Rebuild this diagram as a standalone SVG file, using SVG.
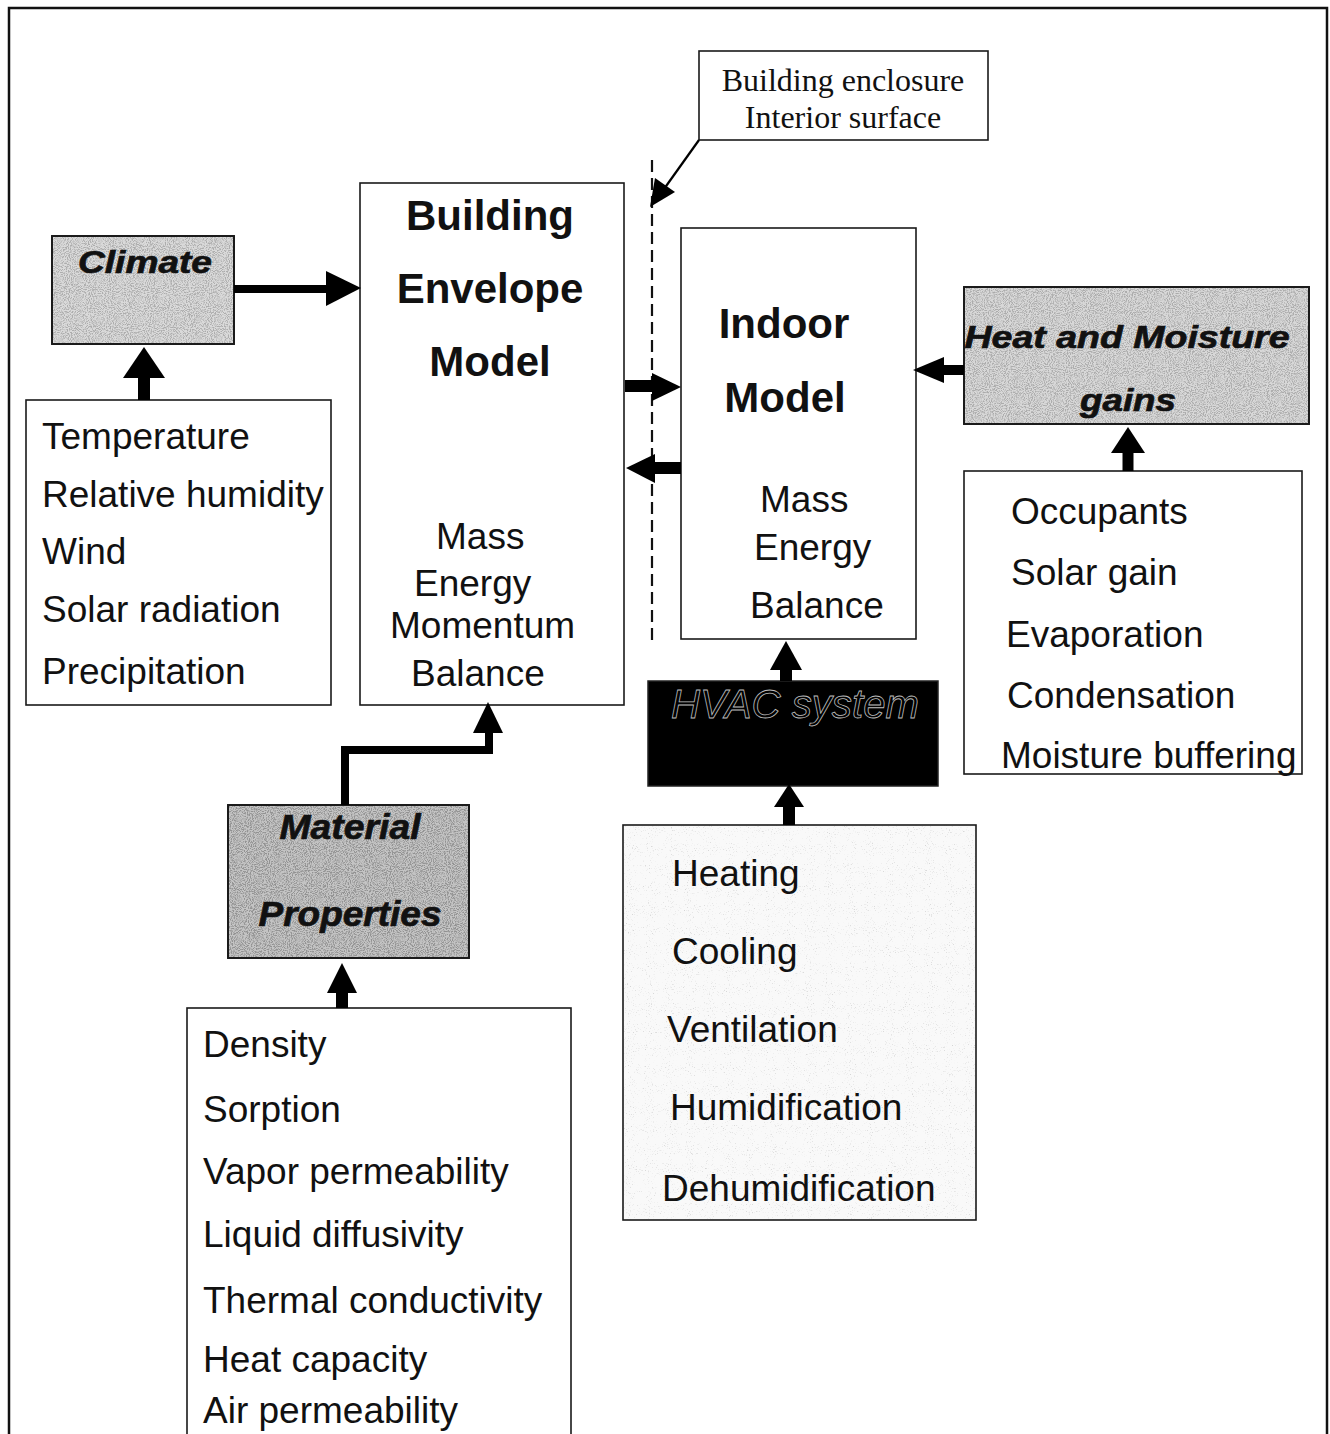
<svg xmlns="http://www.w3.org/2000/svg" width="1330" height="1434" viewBox="0 0 1330 1434">
  <style>
    .box { fill: #ffffff; stroke: #1a1a1a; stroke-width: 1.6; }
    .shade { stroke: #1a1a1a; stroke-width: 1.8; }
    .txt { font-family: "Liberation Sans", Arial, sans-serif; font-size: 37px; fill: #111; }
    .title { font-family: "Liberation Sans", Arial, sans-serif; font-size: 42px; font-weight: bold; fill: #111; }
    .label { font-family: "Liberation Sans", Arial, sans-serif; font-weight: bold; font-style: italic; fill: #111; stroke: #111; stroke-width: 0.7; text-anchor: middle; }
    .note { font-family: "Liberation Serif", "Times New Roman", serif; font-size: 32px; fill: #111; text-anchor: middle; }
    .shaft { stroke: #000; fill: none; stroke-linejoin: miter; }
    .head { fill: #000; }
  </style>
  <defs>
    <!-- speckled grain used on the shaded boxes -->
    <filter id="grain" x="0" y="0" width="1" height="1">
      <feTurbulence type="fractalNoise" baseFrequency="0.95" numOctaves="2" seed="7" result="n"/>
      <feColorMatrix in="n" type="matrix" values="0 0 0 0 0  0 0 0 0 0  0 0 0 0 0  0 0 0 -4 2.3" result="specks"/>
      <feComposite in="specks" in2="SourceGraphic" operator="in"/>
    </filter>
    <filter id="grainLight" x="0" y="0" width="1" height="1">
      <feTurbulence type="fractalNoise" baseFrequency="0.95" numOctaves="2" seed="11" result="n"/>
      <feColorMatrix in="n" type="matrix" values="0 0 0 0 0  0 0 0 0 0  0 0 0 0 0  0 0 0 -4 1.5" result="specks"/>
      <feComposite in="specks" in2="SourceGraphic" operator="in"/>
    </filter>
  </defs>

  <rect width="1330" height="1434" fill="#ffffff"/>

  <!-- page frame -->
  <rect x="9" y="8" width="1318" height="1450" fill="none" stroke="#111" stroke-width="2.5"/>

  <!-- interior surface marker -->
  <line x1="652" y1="160" x2="652" y2="640" stroke="#111" stroke-width="2.2" stroke-dasharray="12 6"/>

  <g id="callout">
    <rect class="box" x="699" y="51" width="289" height="89"/>
    <text class="note" x="843" y="91">Building enclosure</text>
    <text class="note" x="843" y="128">Interior surface</text>
  </g>

  <g id="climate">
    <rect class="shade" x="52" y="236" width="182" height="108" fill="#dadada"/>
    <rect x="52" y="236" width="182" height="108" fill="#fff" filter="url(#grain)" opacity="0.2"/>
    <rect x="52" y="236" width="182" height="108" fill="none" stroke="#1a1a1a" stroke-width="1.8"/>
    <text class="label" x="145" y="273" font-size="31" textLength="134" lengthAdjust="spacingAndGlyphs">Climate</text>
  </g>

  <g id="climate-inputs">
    <rect class="box" x="26" y="400" width="305" height="305"/>
    <text class="txt" x="42" y="449">Temperature</text>
    <text class="txt" x="42" y="507">Relative humidity</text>
    <text class="txt" x="42" y="564">Wind</text>
    <text class="txt" x="42" y="622">Solar radiation</text>
    <text class="txt" x="42" y="684">Precipitation</text>
  </g>

  <g id="envelope-model">
    <rect class="box" x="360" y="183" width="264" height="522"/>
    <text class="title" x="490" y="230" text-anchor="middle">Building</text>
    <text class="title" x="490" y="303" text-anchor="middle">Envelope</text>
    <text class="title" x="490" y="376" text-anchor="middle">Model</text>
    <text class="txt" x="436" y="549">Mass</text>
    <text class="txt" x="414" y="596">Energy</text>
    <text class="txt" x="390" y="638">Momentum</text>
    <text class="txt" x="411" y="686">Balance</text>
  </g>

  <g id="indoor-model">
    <rect class="box" x="681" y="228" width="235" height="411"/>
    <text class="title" x="784" y="338" text-anchor="middle">Indoor</text>
    <text class="title" x="785" y="412" text-anchor="middle">Model</text>
    <text class="txt" x="760" y="512">Mass</text>
    <text class="txt" x="754" y="560">Energy</text>
    <text class="txt" x="750" y="618">Balance</text>
  </g>

  <g id="gains">
    <rect class="shade" x="964" y="287" width="345" height="137" fill="#d8d8d8"/>
    <rect x="964" y="287" width="345" height="137" fill="#fff" filter="url(#grain)" opacity="0.2"/>
    <rect x="964" y="287" width="345" height="137" fill="none" stroke="#1a1a1a" stroke-width="1.8"/>
    <text class="label" x="1127" y="348" font-size="32" textLength="325" lengthAdjust="spacingAndGlyphs">Heat and Moisture</text>
    <text class="label" x="1128" y="411" font-size="32" textLength="96" lengthAdjust="spacingAndGlyphs">gains</text>
  </g>

  <g id="gain-sources">
    <rect class="box" x="964" y="471" width="338" height="303"/>
    <text class="txt" x="1011" y="524">Occupants</text>
    <text class="txt" x="1011" y="585">Solar gain</text>
    <text class="txt" x="1006" y="647">Evaporation</text>
    <text class="txt" x="1007" y="708">Condensation</text>
    <text class="txt" x="1001" y="768">Moisture buffering</text>
  </g>

  <g id="hvac">
    <rect x="648" y="681" width="290" height="105" fill="#000" stroke="#222" stroke-width="1.5"/>
    <text x="795" y="718" font-family="'Liberation Sans', Arial, sans-serif" font-size="40" font-style="italic" text-anchor="middle" fill="none" stroke="#bdbdbd" stroke-width="0.8" textLength="248" lengthAdjust="spacingAndGlyphs">HVAC system</text>
  </g>

  <g id="hvac-functions">
    <rect x="623" y="825" width="353" height="395" fill="#f9f9f9"/>
    <rect x="623" y="825" width="353" height="395" fill="#fff" filter="url(#grainLight)" opacity="0.14"/>
    <rect x="623" y="825" width="353" height="395" fill="none" stroke="#1a1a1a" stroke-width="1.6"/>
    <text class="txt" x="672" y="886">Heating</text>
    <text class="txt" x="672" y="964">Cooling</text>
    <text class="txt" x="667" y="1042">Ventilation</text>
    <text class="txt" x="670" y="1120">Humidification</text>
    <text class="txt" x="662" y="1201">Dehumidification</text>
  </g>

  <g id="material">
    <rect class="shade" x="228" y="805" width="241" height="153" fill="#c4c4c4"/>
    <rect x="228" y="805" width="241" height="153" fill="#fff" filter="url(#grain)" opacity="0.25"/>
    <rect x="228" y="805" width="241" height="153" fill="none" stroke="#1a1a1a" stroke-width="1.8"/>
    <text class="label" x="350" y="839" font-size="35" textLength="141" lengthAdjust="spacingAndGlyphs">Material</text>
    <text class="label" x="350" y="926" font-size="35" textLength="183" lengthAdjust="spacingAndGlyphs">Properties</text>
  </g>

  <g id="material-data">
    <rect class="box" x="187" y="1008" width="384" height="450"/>
    <text class="txt" x="203" y="1057">Density</text>
    <text class="txt" x="203" y="1122">Sorption</text>
    <text class="txt" x="203" y="1184">Vapor permeability</text>
    <text class="txt" x="203" y="1247">Liquid diffusivity</text>
    <text class="txt" x="203" y="1313">Thermal conductivity</text>
    <text class="txt" x="203" y="1372">Heat capacity</text>
    <text class="txt" x="203" y="1423">Air permeability</text>
  </g>

  <g id="connectors">
    <!-- callout pointer -->
    <line class="shaft" x1="699" y1="140" x2="664" y2="189" stroke-width="2.2"/>
    <polygon class="head" points="650,207 655,178 675,192"/>

    <!-- climate -> envelope model -->
    <line class="shaft" x1="234" y1="289" x2="328" y2="289" stroke-width="8"/>
    <polygon class="head" points="361,288 326,271 326,306"/>

    <!-- climate inputs -> climate -->
    <line class="shaft" x1="144" y1="400" x2="144" y2="375" stroke-width="12"/>
    <polygon class="head" points="144,347 123,378 165,378"/>

    <!-- envelope model -> indoor model -->
    <line class="shaft" x1="625" y1="386" x2="655" y2="386" stroke-width="12"/>
    <polygon class="head" points="681,387 652,373 652,401"/>

    <!-- indoor model -> envelope model -->
    <line class="shaft" x1="681" y1="468" x2="652" y2="468" stroke-width="12"/>
    <polygon class="head" points="626,468 655,454 655,483"/>

    <!-- heat and moisture gains -> indoor model -->
    <line class="shaft" x1="964" y1="370" x2="940" y2="370" stroke-width="10"/>
    <polygon class="head" points="913,370 944,357 944,383"/>

    <!-- gain sources -> gains -->
    <line class="shaft" x1="1128" y1="471" x2="1128" y2="450" stroke-width="11"/>
    <polygon class="head" points="1128,427 1111,453 1145,453"/>

    <!-- HVAC -> indoor model -->
    <line class="shaft" x1="786" y1="681" x2="786" y2="667" stroke-width="12"/>
    <polygon class="head" points="786,641 770,670 802,670"/>

    <!-- HVAC functions -> HVAC -->
    <line class="shaft" x1="789" y1="825" x2="789" y2="804" stroke-width="12"/>
    <polygon class="head" points="789,784 774,807 804,807"/>

    <!-- material properties -> envelope model -->
    <polyline class="shaft" points="345,805 345,750 489,750 489,730" stroke-width="8"/>
    <polygon class="head" points="488,702 473,733 503,733"/>

    <!-- material data -> material properties -->
    <line class="shaft" x1="342" y1="1008" x2="342" y2="990" stroke-width="12"/>
    <polygon class="head" points="342,963 327,993 357,993"/>
  </g>
</svg>
